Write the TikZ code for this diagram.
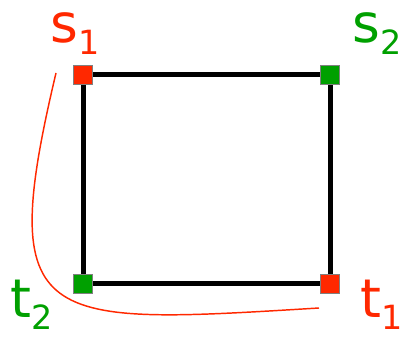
\documentclass[tikz,border=0pt]{standalone}
\usepackage{fontspec}
\setmainfont{DejaVu Sans}
\definecolor{termred}{RGB}{255,40,0}
\definecolor{termgreen}{RGB}{0,160,0}
\newcommand{\termlabel}[2]{#1\raisebox{-0.22em}{\fontsize{25}{27}\selectfont #2}}

\begin{document}
\begin{tikzpicture}[x=0.75pt, y=-0.75pt,
    termnode/.style={rectangle, draw=gray, line width=0.8pt, minimum size=14.25pt, inner sep=0pt},
    edgeline/.style={black, line width=3.75pt},
    labelnode/.style={font=\fontsize{40}{42}\selectfont, inner sep=0pt, anchor=base west}
]
\useasboundingbox (0,0) rectangle (408,341);

\node[termnode, fill=termred] (s1) at (83,75) {};
\node[termnode, fill=termgreen] (s2) at (330,75) {};
\node[termnode, fill=termred] (t1) at (330,284) {};
\node[termnode, fill=termgreen] (t2) at (83,284) {};

\draw[edgeline] (s1) -- (s2);
\draw[edgeline] (s2) -- (t1);
\draw[edgeline] (t1) -- (t2);
\draw[edgeline] (t2) -- (s1);

\node[labelnode, text=termred] (ls1) at (50,43) {\termlabel{s}{1}};
\node[labelnode, text=termgreen] (ls2) at (352,43) {\termlabel{s}{2}};
\node[labelnode, text=termgreen] (lt2) at (10,318) {\termlabel{t}{2}};
\node[labelnode, text=termred] (lt1) at (360,318) {\termlabel{t}{1}};

% path s1 -> t1
\coordinate (pstart) at (56,73);
\coordinate (pend) at (319,308);
\draw[termred, line width=1.1pt] (pstart) .. controls (-5,330) and (40,325) .. (pend);
\end{tikzpicture}
\end{document}
